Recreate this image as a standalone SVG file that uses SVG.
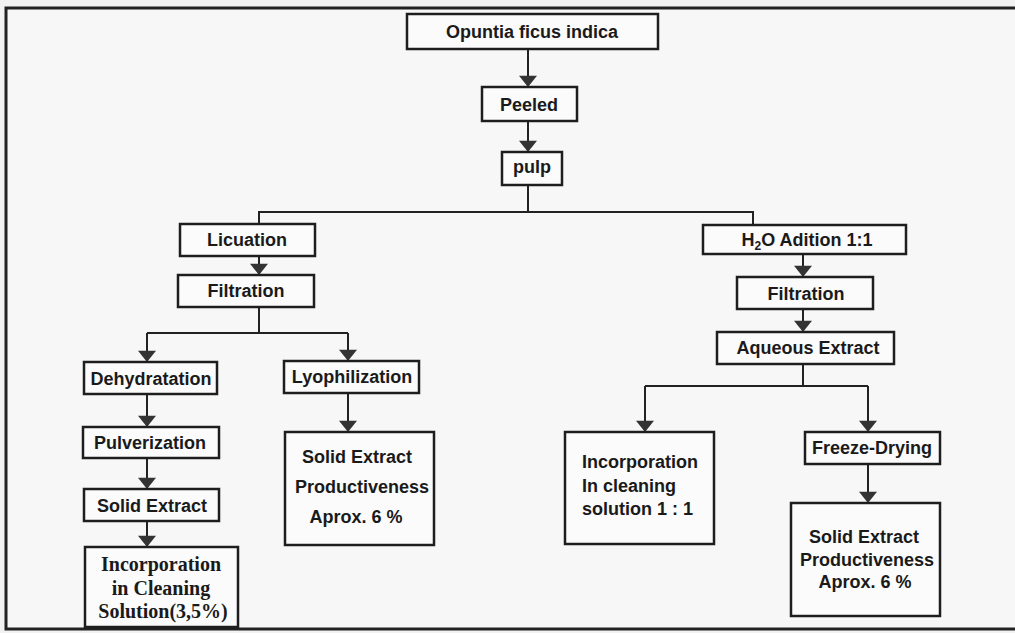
<svg xmlns="http://www.w3.org/2000/svg" width="1015" height="633" viewBox="0 0 1015 633">
<style>
.box{fill:#fbfbfb;stroke:#1e1e1e;stroke-width:2.5}
.t{font-family:"Liberation Sans",Arial,sans-serif;font-weight:bold;font-size:18px;fill:#1a1a1a;text-anchor:middle}
.s{font-family:"Liberation Serif","Times New Roman",serif;font-weight:bold;font-size:20px;fill:#1a1a1a;text-anchor:middle}
.c{fill:none;stroke:#222;stroke-width:2}
</style>
<defs>
<marker id="ah" markerUnits="userSpaceOnUse" markerWidth="12" markerHeight="18" refX="10" refY="8" orient="auto" viewBox="0 0 10 16">
<path d="M0,0 L10,8 L0,16 z" fill="#333"/>
</marker>
</defs>
<rect x="0" y="0" width="1015" height="633" fill="#f2f2f2"/>
<rect x="6" y="8" width="1020" height="621" fill="#f7f7f7" stroke="#222" stroke-width="3"/>
<g id="connectors">
<path class="c" d="M528,49 V87" marker-end="url(#ah)"/>
<path class="c" d="M528,121 V152" marker-end="url(#ah)"/>
<path class="c" d="M528,185 V212 M259,224 V212 H753 V225"/>
<path class="c" d="M259,256 V275" marker-end="url(#ah)"/>
<path class="c" d="M259,307 V333 M147,333 H348"/>
<path class="c" d="M147,333 V362" marker-end="url(#ah)"/>
<path class="c" d="M348,333 V361" marker-end="url(#ah)"/>
<path class="c" d="M147,394 V427" marker-end="url(#ah)"/>
<path class="c" d="M147,458 V489" marker-end="url(#ah)"/>
<path class="c" d="M147,521 V547" marker-end="url(#ah)"/>
<path class="c" d="M348,393 V432" marker-end="url(#ah)"/>
<path class="c" d="M803,254 V277" marker-end="url(#ah)"/>
<path class="c" d="M803,309 V332" marker-end="url(#ah)"/>
<path class="c" d="M803,364 V386 M645,386 H868"/>
<path class="c" d="M645,386 V432" marker-end="url(#ah)"/>
<path class="c" d="M868,386 V432" marker-end="url(#ah)"/>
<path class="c" d="M868,464 V503" marker-end="url(#ah)"/>
</g>
<g id="opuntia"><rect class="box" x="407" y="14" width="251" height="35"/><text class="t" x="532" y="38">Opuntia ficus indica</text></g>
<g id="peeled"><rect class="box" x="482" y="87" width="95" height="34"/><text class="t" x="529" y="111">Peeled</text></g>
<g id="pulp"><rect class="box" x="502" y="152" width="60" height="33"/><text class="t" x="532" y="173">pulp</text></g>
<g id="licuation"><rect class="box" x="180" y="224" width="135" height="32"/><text class="t" x="247" y="246">Licuation</text></g>
<g id="filtration-left"><rect class="box" x="178" y="275" width="136" height="32"/><text class="t" x="246" y="297">Filtration</text></g>
<g id="h2o"><rect class="box" x="703" y="225" width="203" height="29"/><text class="t" x="807" y="246">H<tspan font-size="12" dy="4">2</tspan><tspan dy="-4">O Adition 1:1</tspan></text></g>
<g id="filtration-right"><rect class="box" x="737" y="277" width="136" height="32"/><text class="t" x="806" y="300">Filtration</text></g>
<g id="aqueous"><rect class="box" x="717" y="332" width="177" height="32"/><text class="t" x="808" y="354">Aqueous Extract</text></g>
<g id="dehydratation"><rect class="box" x="84" y="362" width="133" height="32"/><text class="t" x="151" y="385">Dehydratation</text></g>
<g id="lyophilization"><rect class="box" x="284" y="361" width="135" height="32"/><text class="t" x="352" y="383">Lyophilization</text></g>
<g id="pulverization"><rect class="box" x="83" y="427" width="136" height="31"/><text class="t" x="150" y="449">Pulverization</text></g>
<g id="solid-extract"><rect class="box" x="84" y="489" width="135" height="32"/><text class="t" x="152" y="512">Solid Extract</text></g>
<g id="incorporation-left"><rect class="box" x="85" y="547" width="153" height="80"/><text class="s" x="161" y="571">Incorporation</text><text class="s" x="161" y="595">in Cleaning</text><text class="s" x="163" y="618">Solution(3,5%)</text></g>
<g id="solid-mid"><rect class="box" x="285" y="432" width="149" height="113"/><text class="t" x="357" y="463">Solid Extract</text><text class="t" x="362" y="493">Productiveness</text><text class="t" x="356" y="523">Aprox. 6 %</text></g>
<g id="incorporation-right"><rect class="box" x="565" y="432" width="149" height="112"/><text class="t" style="text-anchor:start" x="582" y="468">Incorporation</text><text class="t" style="text-anchor:start" x="582" y="492">In cleaning</text><text class="t" style="text-anchor:start" x="582" y="515">solution 1 : 1</text></g>
<g id="freeze-drying"><rect class="box" x="805" y="432" width="135" height="32"/><text class="t" x="872" y="454">Freeze-Drying</text></g>
<g id="solid-right"><rect class="box" x="791" y="503" width="149" height="113"/><text class="t" x="864" y="543">Solid Extract</text><text class="t" x="867" y="566">Productiveness</text><text class="t" x="865" y="588">Aprox. 6 %</text></g>
</svg>
